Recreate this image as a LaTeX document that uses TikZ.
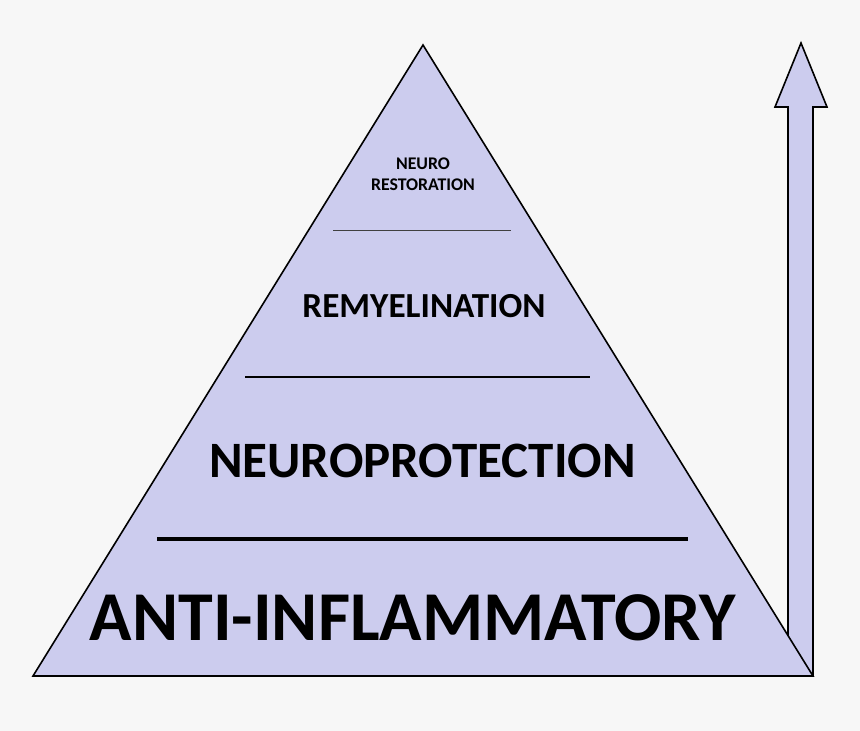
\documentclass[tikz,border=0pt]{standalone}
\usepackage{fontspec}
\setmainfont{Carlito}
\definecolor{pyrfill}{HTML}{CCCCEE}
\definecolor{bggray}{HTML}{F7F7F7}
\begin{document}
\begin{tikzpicture}[x=1pt, y=-1pt,
    shape style/.style={fill=pyrfill, draw=black, line width=1.6pt, line join=miter},
    level/.style={font=\bfseries, text=black, inner sep=0pt, align=center}
]
    \fill[bggray] (0,0) rectangle (860,731);
    \useasboundingbox (0,0) rectangle (860,731);

    % arrow behind the pyramid
    \draw[shape style] (788,676) -- (788,107) -- (775,107) -- (801,43)
        -- (827,107) -- (813,107) -- (813,676) -- cycle;

    % pyramid
    \draw[shape style] (33,676) -- (423,45) -- (813,676) -- cycle;

    % dividing lines
    \draw[line width=0.8pt, black!75] (333,230) -- (511,230);
    \draw[line width=1.8pt] (245,377) -- (590,377);
    \draw[line width=4pt] (157,539) -- (688,539);

    \node[level, font=\bfseries\fontsize{17.8}{21.5}\selectfont] at (423,174) (restore) {NEURO\\RESTORATION};
    \node[level, font=\bfseries\fontsize{35.2}{40}\selectfont] at (424,306) (remyel) {REMYELINATION};
    \node[level, font=\bfseries\fontsize{51}{60}\selectfont] at (422.5,460.5) (protect) {NEUROPROTECTION};
    \node[level, font=\bfseries\fontsize{70}{80}\selectfont] at (413,617.5) (antiinf) {ANTI-INFLAMMATORY};
\end{tikzpicture}
\end{document}
